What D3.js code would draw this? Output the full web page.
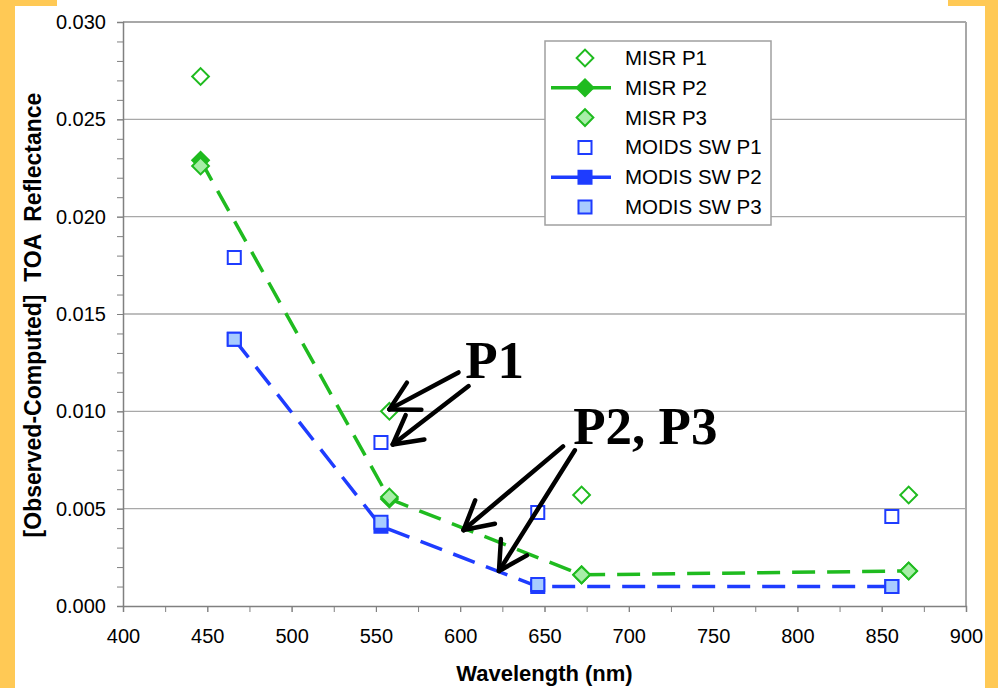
<!DOCTYPE html>
<html>
<head>
<meta charset="utf-8">
<title>MISR / MODIS TOA reflectance</title>
<script src="https://d3js.org/d3.v7.min.js"></script>
<style>
  body { margin: 0; background: #fff; }
  svg { display: block; font-family: "Liberation Sans", Arial, sans-serif; }
</style>
</head>
<body>
<svg id="chart"></svg>
<script>
// wavelengths (nm) of the two instruments
const misrWl = [446, 558, 672, 866];
const modisWl = [466, 553, 646, 856];

// (observed - computed) TOA reflectance
const misrP1 = [0.0272, 0.0100, 0.0057, 0.0057];
const misrP2 = [0.0229, 0.0055, 0.0016, 0.0018];
const misrP3 = [0.0226, 0.0056, 0.0016, 0.0018];
const modisP1 = [0.0179, 0.0084, 0.0048, 0.0046];
const modisP2 = [0.0137, 0.0041, 0.0010, 0.0010];
const modisP3 = [0.0137, 0.0043, 0.0011, 0.0010];

const legendNames = ["MISR P1", "MISR P2", "MISR P3", "MOIDS SW P1", "MODIS SW P2", "MODIS SW P3"];

const xTicks = [400, 450, 500, 550, 600, 650, 700, 750, 800, 850, 900];
const yTicks = [0, 0.005, 0.010, 0.015, 0.020, 0.025, 0.030];

// annotation arrows in data units: [x0, y0, x1, y1]
const arrowsP1 = [[599, 0.0120, 558, 0.0101], [605, 0.0113, 560, 0.0083]];
const arrowsP23 = [[661, 0.0082, 602, 0.0039], [668, 0.0080, 623, 0.0018]];

const W = 998, H = 688;
const green = "#1fbb1f", lightGreen = "#a8eea8";
const blue = "#1e3cff", lightBlue = "#a8ccff";

const svg = d3.select("#chart").attr("width", W).attr("height", H);

// orange frame pieces
svg.append("rect").attr("x", 0).attr("y", 0).attr("width", 15).attr("height", H).attr("fill", "#ffc955");
svg.append("rect").attr("x", 0).attr("y", 0).attr("width", 57).attr("height", 6).attr("fill", "#ffc955");
svg.append("rect").attr("x", 985).attr("y", 0).attr("width", 13).attr("height", H).attr("fill", "#ffc955");
svg.append("rect").attr("x", 948).attr("y", 0).attr("width", 50).attr("height", 6).attr("fill", "#ffc955");

const x = d3.scaleLinear().domain([400, 900]).range([123, 966]);
const y = d3.scaleLinear().domain([0, 0.03]).range([606, 22]);

// gridlines
svg.append("g").selectAll("line")
    .data(yTicks.slice(1))
    .enter().append("line")
    .attr("x1", x(400)).attr("x2", x(900))
    .attr("y1", d => y(d)).attr("y2", d => y(d))
    .attr("stroke", "#a8a8a8").attr("stroke-width", 1.3);

// right and top border
svg.append("line")
    .attr("x1", x(900)).attr("x2", x(900)).attr("y1", y(0.03)).attr("y2", y(0))
    .attr("stroke", "#a8a8a8").attr("stroke-width", 2);
svg.append("line")
    .attr("x1", x(400)).attr("x2", x(900)).attr("y1", y(0.03)).attr("y2", y(0.03))
    .attr("stroke", "#a8a8a8").attr("stroke-width", 2);

// minor ticks
svg.append("g").attr("transform", "translate(" + x(400) + ",0)")
    .call(d3.axisLeft(y).tickValues(d3.range(0, 31).map(d => d / 1000)).tickSize(6).tickFormat(""))
    .call(g => g.selectAll("line,path").attr("stroke", "#808080"));
svg.append("g").attr("transform", "translate(0," + y(0) + ")")
    .call(d3.axisBottom(x).tickValues(d3.range(400, 901, 25)).tickSize(6).tickFormat(""))
    .call(g => g.selectAll("line,path").attr("stroke", "#808080"));

// main axes with labels
const yAxis = svg.append("g").attr("transform", "translate(" + x(400) + ",0)")
    .call(d3.axisLeft(y).tickValues(yTicks).tickSize(6).tickPadding(11).tickFormat(d3.format(".3f")));
const xAxis = svg.append("g").attr("transform", "translate(0," + y(0) + ")")
    .call(d3.axisBottom(x).tickValues(xTicks).tickSize(6).tickPadding(17).tickFormat(d3.format("d")));
[yAxis, xAxis].forEach(a => {
    a.selectAll("line").attr("stroke", "#808080");
    a.select("path").attr("stroke", "#808080").attr("stroke-width", 1.5);
    a.selectAll("text").attr("font-size", 20).attr("fill", "#000")
        .attr("font-family", "'Liberation Sans', Arial, sans-serif");
});

// axis titles
svg.append("text")
    .attr("x", (x(400) + x(900)) / 2).attr("y", 681)
    .attr("text-anchor", "middle").attr("font-size", 22).attr("font-weight", "bold")
    .text("Wavelength (nm)");
svg.append("text")
    .attr("transform", "translate(41," + (y(0.015) + 1) + ") rotate(-90)")
    .attr("text-anchor", "middle").attr("font-size", 23).attr("font-weight", "bold")
    .attr("xml:space", "preserve")
    .text("[Observed-Computed]  TOA  Reflectance");

// dashed lines for P2
const line = d3.line().x(d => x(d[0])).y(d => y(d[1]));
svg.append("path").datum(d3.zip(misrWl, misrP2))
    .attr("d", line).attr("fill", "none").attr("stroke", green)
    .attr("stroke-width", 3.5).attr("stroke-dasharray", "23,12");
svg.append("path").datum(d3.zip(modisWl, modisP2))
    .attr("d", line).attr("fill", "none").attr("stroke", blue)
    .attr("stroke-width", 3.5).attr("stroke-dasharray", "23,12");

const diamond = d3.symbol().type(d3.symbolSquare).size(140);
const square = d3.symbol().type(d3.symbolSquare).size(170);

function drawMarkers(wl, vals, kind, fill, stroke) {
    svg.append("g").selectAll("path")
        .data(d3.zip(wl, vals))
        .enter().append("path")
        .attr("d", kind === "diamond" ? diamond : square)
        .attr("transform", d => "translate(" + x(d[0]) + "," + y(d[1]) + ")" + (kind === "diamond" ? " rotate(45)" : ""))
        .attr("fill", fill).attr("stroke", stroke).attr("stroke-width", 2);
}

drawMarkers(misrWl, misrP2, "diamond", green, green);
drawMarkers(misrWl, misrP3, "diamond", lightGreen, green);
drawMarkers(misrWl, misrP1, "diamond", "#fff", green);
drawMarkers(modisWl, modisP2, "square", blue, blue);
drawMarkers(modisWl, modisP3, "square", lightBlue, blue);
drawMarkers(modisWl, modisP1, "square", "#fff", blue);

// legend
const lg = svg.append("g").attr("transform", "translate(545,41)");
lg.append("rect").attr("width", 226).attr("height", 184)
    .attr("fill", "#fff").attr("stroke", "#a0a0a0").attr("stroke-width", 1.5);
const legendStyle = [
    ["diamond", "#fff", green, false],
    ["diamond", green, green, true],
    ["diamond", lightGreen, green, false],
    ["square", "#fff", blue, false],
    ["square", blue, blue, true],
    ["square", lightBlue, blue, false]
];
legendNames.forEach((name, i) => {
    const cy = 17 + i * 29.8;
    const [kind, fill, stroke, hasLine] = legendStyle[i];
    if (hasLine) {
        lg.append("line").attr("x1", 6).attr("x2", 66).attr("y1", cy).attr("y2", cy)
            .attr("stroke", stroke).attr("stroke-width", 3.5);
    }
    lg.append("path")
        .attr("d", kind === "diamond" ? diamond : square)
        .attr("transform", "translate(40," + cy + ")" + (kind === "diamond" ? " rotate(45)" : ""))
        .attr("fill", fill).attr("stroke", stroke).attr("stroke-width", 2);
    lg.append("text").attr("x", 80).attr("y", cy + 7)
        .attr("font-size", 20.5).text(name);
});

// annotations
function drawArrow(a) {
    const x0 = x(a[0]), y0 = y(a[1]), x1 = x(a[2]), y1 = y(a[3]);
    const ang = Math.atan2(y0 - y1, x0 - x1);
    const len = 32, spread = 0.5;
    const g = svg.append("g").attr("stroke", "#000").attr("stroke-width", 4.5)
        .attr("stroke-linecap", "round").attr("fill", "none");
    g.append("line").attr("x1", x0).attr("y1", y0).attr("x2", x1).attr("y2", y1);
    [-spread, spread].forEach(s => {
        g.append("line").attr("x1", x1).attr("y1", y1)
            .attr("x2", x1 + len * Math.cos(ang + s))
            .attr("y2", y1 + len * Math.sin(ang + s));
    });
}
arrowsP1.forEach(drawArrow);
arrowsP23.forEach(drawArrow);

svg.append("text").attr("x", x(603)).attr("y", y(0.0117))
    .attr("font-family", "'Liberation Serif', 'Times New Roman', serif")
    .attr("font-weight", "bold").attr("font-size", 53).text("P1");
svg.append("text").attr("x", x(667)).attr("y", y(0.0083))
    .attr("font-family", "'Liberation Serif', 'Times New Roman', serif")
    .attr("font-weight", "bold").attr("font-size", 53).text("P2, P3");
</script>
</body>
</html>
